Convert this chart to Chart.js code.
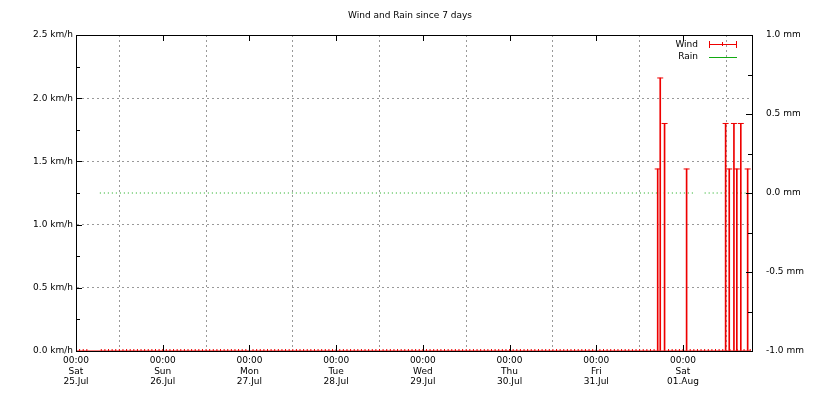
<!DOCTYPE html>
<html><head><meta charset="utf-8">
<script src="https://cdn.jsdelivr.net/npm/chart.js@4"></script>
<style>
body{margin:0;background:#fff;font-family:"DejaVu Sans",sans-serif}
#wrap{position:relative;width:820px;height:400px}
#title{position:absolute;top:10px;left:0;width:820px;text-align:center;font-size:9px;color:#000}
.lg{position:absolute;font-size:9px;color:#000;text-align:right;width:60px}
</style></head><body>
<div id="wrap">
<canvas id="c" width="820" height="400"></canvas>
<div id="title">Wind and Rain since 7 days</div>
<div class="lg" style="left:638px;top:39px">Wind</div>
<div class="lg" style="left:638px;top:51px">Rain</div>
<div style="position:absolute;left:709px;top:44px;width:28px;height:1px;background:#e00"></div>
<div style="position:absolute;left:709px;top:41px;width:1px;height:7px;background:#e00"></div>
<div style="position:absolute;left:736px;top:41px;width:1px;height:7px;background:#e00"></div>
<div style="position:absolute;left:722px;top:42px;width:1px;height:4px;background:#e00"></div>
<div style="position:absolute;left:709px;top:57px;width:28px;height:1px;background:#1a1"></div>
</div>
<script>
// hours since Sat 25.Jul 00:00
const dayLabels = [["00:00","Sat","25.Jul"],["00:00","Sun","26.Jul"],["00:00","Mon","27.Jul"],["00:00","Tue","28.Jul"],["00:00","Wed","29.Jul"],["00:00","Thu","30.Jul"],["00:00","Fri","31.Jul"],["00:00","Sat","01.Aug"]];
const windTimes = [161.0,161.7,162.9,169.0,179.8,180.8,182.1,182.9,184.0,185.9];
const windValues = [1.44,2.16,1.80,1.44,1.80,1.44,1.80,1.44,1.80,1.44];
// hourly calm readings (0 km/h), gap after start
const calmHours = [0,1,2,3,7,8,9,10,11,12,13,14,15,16,17,18,19,20,21,22,23,24,25,26,27,28,29,30,31,32,33,34,35,36,37,38,39,40,41,42,43,44,45,46,47,48,49,50,51,52,53,54,55,56,57,58,59,60,61,62,63,64,65,66,67,68,69,70,71,72,73,74,75,76,77,78,79,80,81,82,83,84,85,86,87,88,89,90,91,92,93,94,95,96,97,98,99,100,101,102,103,104,105,106,107,108,109,110,111,112,113,114,115,116,117,118,119,120,121,122,123,124,125,126,127,128,129,130,131,132,133,134,135,136,137,138,139,140,141,142,143,144,145,146,147,148,149,150,151,152,153,154,155,156,157,158,159,160,164,165,166,167,168,170,171,172,173,174,175,176,177,178,179,181,183,184.9,186.6];
const rainTimes = [6.6,12,24,48,72,96,120,144,168,170.8,171.0,174.0,176,185.3];
const rainValues = [0,0,0,0,0,0,0,0,0,0,null,0,0,0];

const windPts = windTimes.map((t,i)=>({x:t,y:windValues[i]}));
const calmPts = calmHours.map(t=>({x:t,y:0}));
const boxPlugin = {id:'box',afterDraw(c){const a=c.chartArea,x=c.ctx;x.save();x.strokeStyle='#000';x.lineWidth=1;x.strokeRect(a.left+0.5,a.top+0.5,a.right-a.left,a.bottom-a.top);
 // inward tick marks
 const xs=c.scales.x,yl=c.scales.y,yr=c.scales.y2;x.beginPath();
 for(let h=0;h<=180;h+=24){const p=Math.round(xs.getPixelForValue(h))+0.5;x.moveTo(p,a.bottom);x.lineTo(p,a.bottom-6);x.moveTo(p,a.top);x.lineTo(p,a.top+6);}
 for(let v=0;v<=2.5;v+=0.25){const p=Math.round(yl.getPixelForValue(v))+0.5;x.moveTo(a.left,p);x.lineTo(a.left+(v*4%2?4:6),p);}
 for(let v=-1;v<=1;v+=0.25){const p=Math.round(yr.getPixelForValue(v))+0.5;x.moveTo(a.right,p);x.lineTo(a.right-(v*4%2?4:6),p);}
 x.stroke();x.restore();}};
const font={family:'"DejaVu Sans",sans-serif',size:9};
new Chart(document.getElementById('c'),{
 type:'bar',
 data:{datasets:[
  {type:'bar',data:windPts.map(p=>({x:p.x,y:[0,p.y]})),backgroundColor:'#e00',barThickness:1,yAxisID:'y',order:1},
  {type:'scatter',data:windPts,pointStyle:'line',radius:3,borderColor:'#e00',borderWidth:1,yAxisID:'y',order:0},
  {type:'scatter',data:calmPts,pointStyle:'line',rotation:90,radius:2,borderColor:'#e00',borderWidth:1,yAxisID:'y',order:0},
  {type:'line',data:calmPts,borderColor:'#e00',borderWidth:1,pointRadius:0,yAxisID:'y',order:0},
  {type:'line',data:rainTimes.map((t,i)=>({x:t,y:rainValues[i]})),borderColor:'#1a1',borderWidth:1,borderDash:[1,3],pointRadius:0,spanGaps:false,yAxisID:'y2',order:2}
 ]},
 options:{responsive:false,animation:false,
  layout:{padding:{top:35,left:0,right:0,bottom:0}},
  plugins:{legend:{display:false},tooltip:{enabled:false}},
  scales:{
   x:{type:'linear',min:0,max:187.1,offset:false,
     afterBuildTicks(s){s.ticks=[];for(let h=0;h<=180;h+=12)s.ticks.push({value:h});},
     afterFit(s){s.height=49;},
     ticks:{autoSkip:false,maxRotation:0,color:'#000',font,padding:4,
       callback:v=>v%24===0?dayLabels[v/24]:''},
     grid:{offset:false,color:c=>c.tick&&c.tick.value%24===0?'rgba(0,0,0,0)':'#999',lineWidth:1,drawTicks:false,tickLength:0},
     border:{color:'#000',dash:[2,3]}},
   y:{position:'left',min:0,max:2.5,
     afterBuildTicks(s){s.ticks=[0,0.5,1,1.5,2,2.5].map(v=>({value:v}));},
     afterFit(s){s.width=76;},
     ticks:{color:'#000',font,callback:v=>v.toFixed(1)+' km/h'},
     grid:{color:'#999',drawTicks:false},border:{color:'#000',dash:[2,3]}},
   y2:{position:'right',min:-1,max:1,
     afterBuildTicks(s){s.ticks=[-1,-0.5,0,0.5,1].map(v=>({value:v}));},
     afterFit(s){s.width=68;},
     ticks:{color:'#000',font,padding:6,callback:v=>v.toFixed(1)+' mm'},
     grid:{display:false},border:{color:'#000'}}
  }},
 plugins:[boxPlugin]
});
</script></body></html>
